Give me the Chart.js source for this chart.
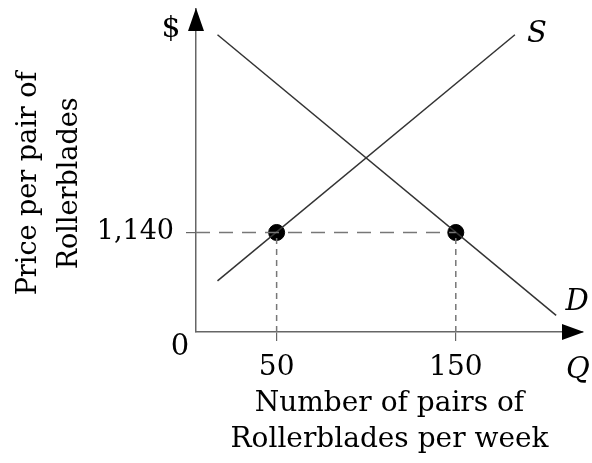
<!DOCTYPE html>
<html>
<head>
<meta charset="utf-8">
<script src="https://cdn.jsdelivr.net/npm/chart.js@4"></script>
<style>
  body { margin: 0; background: #fff; }
  .wrap { width: 592px; height: 463px; }
</style>
</head>
<body>
<div class="wrap"><canvas id="sdChart"></canvas></div>
<script>
// supply / demand lines (quantity, price)
var supplyQ = [17, 183];
var supplyP = [585, 3405];
var demandQ = [17, 206];
var demandP = [3405, 190];
// the two marked points
var pointQ = [50, 150];
var pointP = [1140, 1140];
var xTicks = [50, 150];
var yTicks = [1140];

var serif = "'DejaVu Serif', 'Liberation Serif', serif";
Chart.defaults.font.family = serif;
Chart.defaults.color = '#000';

function toXY(qs, ps) {
    return qs.map(function (q, i) { return {x: q, y: ps[i]}; });
}

var guideStyle = {type: 'line', borderColor: '#777', borderWidth: 1.5, pointRadius: 0, fill: false};

var extras = {
    id: 'extras',
    afterDraw: function (chart) {
        var ctx = chart.ctx, a = chart.chartArea, x = chart.scales.x, y = chart.scales.y;
        ctx.save();
        ctx.fillStyle = '#000';
        // axis arrows
        ctx.beginPath();
        ctx.moveTo(a.left, a.top - 1);
        ctx.lineTo(a.left - 8, a.top + 22);
        ctx.lineTo(a.left + 8, a.top + 22);
        ctx.closePath();
        ctx.fill();
        ctx.beginPath();
        ctx.moveTo(a.right + 1, a.bottom);
        ctx.lineTo(a.right - 21, a.bottom - 8);
        ctx.lineTo(a.right - 21, a.bottom + 8);
        ctx.closePath();
        ctx.fill();

        ctx.textAlign = 'center';
        ctx.textBaseline = 'middle';
        ctx.font = '30px ' + serif;
        ctx.fillText('$', a.left - 25, a.top + 20);
        ctx.font = '29px ' + serif;
        ctx.fillText('0', a.left - 16, a.bottom + 15);
        ctx.font = 'italic 29px ' + serif;
        ctx.fillText('Q', a.right - 5, a.bottom + 38);
        var sx = x.getPixelForValue(supplyQ[1]), sy = y.getPixelForValue(supplyP[1]);
        ctx.fillText('S', sx + 22, sy);
        var dx = x.getPixelForValue(demandQ[1]), dy = y.getPixelForValue(demandP[1]);
        ctx.fillText('D', dx + 21, dy - 13);
        ctx.restore();
    }
};

new Chart(document.getElementById('sdChart'), {
    type: 'scatter',
    data: {
        datasets: [
            Object.assign({data: [{x: 5, y: pointP[1]}, {x: pointQ[1], y: pointP[1]}], borderDash: [14, 9]}, guideStyle),
            Object.assign({data: [{x: pointQ[0], y: 0}, {x: pointQ[0], y: pointP[0]}], borderDash: [6, 5]}, guideStyle),
            Object.assign({data: [{x: pointQ[1], y: 0}, {x: pointQ[1], y: pointP[1]}], borderDash: [6, 5]}, guideStyle),
            {
                type: 'line',
                label: 'S',
                data: toXY(supplyQ, supplyP),
                borderColor: '#333',
                borderWidth: 1.5,
                pointRadius: 0
            },
            {
                type: 'line',
                label: 'D',
                data: toXY(demandQ, demandP),
                borderColor: '#333',
                borderWidth: 1.5,
                pointRadius: 0
            },
            {
                label: 'points',
                data: toXY(pointQ, pointP),
                backgroundColor: '#000',
                borderColor: '#000',
                pointRadius: 8
            }
        ]
    },
    options: {
        responsive: true,
        maintainAspectRatio: false,
        animation: false,
        layout: {padding: {top: 8, right: 7, left: 0, bottom: 0}},
        plugins: {
            legend: {display: false},
            tooltip: {enabled: false}
        },
        scales: {
            x: {
                type: 'linear',
                min: 5,
                max: 221,
                afterBuildTicks: function (s) { s.ticks = xTicks.map(function (v) { return {value: v}; }); },
                afterFit: function (s) { s.height = 131; s.paddingLeft = 0; s.paddingRight = 0; },
                grid: {drawOnChartArea: false, tickLength: 9, color: '#666', lineWidth: 1.2},
                border: {color: '#666', width: 1.5},
                ticks: {font: {size: 28}, padding: 10, maxRotation: 0},
                title: {
                    display: true,
                    text: ['Number of pairs of', 'Rollerblades per week'],
                    font: {size: 28, lineHeight: 1.27},
                    padding: {top: 0, bottom: 6}
                }
            },
            y: {
                type: 'linear',
                min: 0,
                max: 3700,
                afterBuildTicks: function (s) { s.ticks = yTicks.map(function (v) { return {value: v}; }); },
                afterFit: function (s) { s.width = 196; s.paddingTop = 0; s.paddingBottom = 0; },
                grid: {drawOnChartArea: false, tickLength: 10, color: '#666', lineWidth: 1.2},
                border: {color: '#666', width: 1.5},
                ticks: {font: {size: 27}, padding: 12},
                title: {
                    display: true,
                    // trailing spaces push the rotated text down a bit
                    text: ['Price per pair of   ', 'Rollerblades   '],
                    font: {size: 27, lineHeight: 1.5},
                    padding: {top: 9, bottom: 0}
                }
            }
        }
    },
    plugins: [extras]
});
</script>
</body>
</html>
